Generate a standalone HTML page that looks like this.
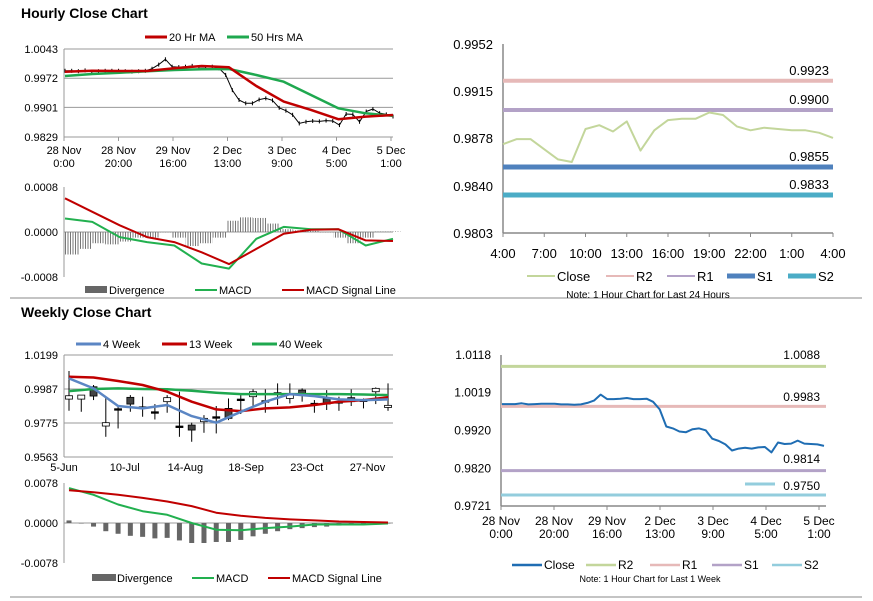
<!DOCTYPE html>
<html><head><meta charset="utf-8"><style>
html,body{margin:0;padding:0;background:#fff}
svg{display:block;font-family:"Liberation Sans",Arial,sans-serif}
</style></head><body>
<svg id="s" width="873" height="601" viewBox="0 0 873 601" xmlns="http://www.w3.org/2000/svg">
<defs><pattern id="hatch" width="2.5" height="4" patternUnits="userSpaceOnUse"><rect x="0" y="0" width="1" height="4" fill="#777"/></pattern></defs>
<line x1="10" y1="298" x2="862" y2="298" stroke="#888"/>
<line x1="10" y1="597" x2="862" y2="597" stroke="#888"/>
<text x="21" y="18" font-size="14" font-weight="bold">Hourly Close Chart</text>
<text x="21" y="317" font-size="14" font-weight="bold">Weekly Close Chart</text>
</svg>
<script>
// ---------- DATA ----------
const hourlyLabels1 = ["28 Nov","28 Nov","29 Nov","2 Dec","3 Dec","4 Dec","5 Dec"];
const hourlyLabels2 = ["0:00","20:00","16:00","13:00","9:00","5:00","1:00"];
const hourlyTicks = [1.0043,0.9972,0.9901,0.9829];
const hourlyClose = [0.9990,0.9990,0.9989,0.9991,0.9988,0.9989,0.9990,0.9990,0.9990,0.9989,0.9988,0.9989,0.9990,0.9995,1.0005,1.0018,1.0000,0.9999,1.0000,1.0002,0.9999,0.9999,1.0000,0.9996,0.9980,0.9943,0.9919,0.9911,0.9911,0.9920,0.9923,0.9918,0.9900,0.9893,0.9883,0.9862,0.9866,0.9868,0.9867,0.9869,0.9868,0.9858,0.9885,0.9884,0.9866,0.9891,0.9897,0.9887,0.9884,0.9879];
const ma20 = [0.99878,0.99903,0.99895,0.99895,0.99961,1.00017,0.99985,0.99531,0.99150,0.98948,0.98722,0.98785,0.98826];
const ma50 = [0.99774,0.99823,0.99854,0.99888,0.99920,0.99936,0.99944,0.99798,0.99635,0.99312,0.98989,0.98867,0.98802];
const hMacdTicks = [0.0008,0.0000,-0.0008];
const hMacd = [0.00024,0.00018,-0.00009,-0.00018,-0.00024,-0.00056,-0.00065,-0.00012,0.00009,0.00005,0.00005,-0.00024,-0.00012];
const hSignal = [0.00060,0.00036,0.00012,-0.00009,-0.00018,-0.00036,-0.00057,-0.00030,-0.00003,0.00004,0.00005,-0.00015,-0.00016];
const hDiv = [-0.0004,-0.0003,-0.0002,-0.00022,-0.00017,-0.0001,-0.0001,0,-0.0001,-0.00025,-0.0002,-0.0001,0.0002,0.00026,0.00025,0.00015,0.00005,0.00003,0.00002,0,-0.0001,-0.0002,-0.0001,0.00001,0.00001];

const dayLabels = ["4:00","7:00","10:00","13:00","16:00","19:00","22:00","1:00","4:00"];
const dayTicks = [0.9952,0.9915,0.9878,0.9840,0.9803];
const dayClose = [0.9873,0.9877,0.9877,0.9869,0.9861,0.9859,0.9885,0.9888,0.9883,0.9891,0.9868,0.9884,0.9892,0.9893,0.9893,0.9898,0.9896,0.9887,0.9884,0.9886,0.9885,0.9884,0.9884,0.9882,0.9878];
const dayLevels = [0.9923,0.9900,0.9855,0.9833];

const weekLabels = ["5-Jun","10-Jul","14-Aug","18-Sep","23-Oct","27-Nov"];
const weekTicks = [1.0199,0.9987,0.9775,0.9563];
const wOpen  = [0.9924,0.9924,1.0001,0.9756,0.9864,0.9935,0.9876,0.9845,0.9908,0.9756,0.9762,0.9783,0.9814,0.9866,0.9924,0.9939,0.9914,0.9964,0.9928,0.9980,0.9898,0.9926,0.9908,0.9933,0.9918,0.9970,0.9872];
const wClose = [0.9945,0.9949,0.9943,0.9777,0.9864,0.9893,0.9876,0.9845,0.9933,0.9756,0.9731,0.9804,0.9814,0.9804,0.9924,0.9970,0.9914,0.9964,0.9949,0.9955,0.9898,0.9893,0.9908,0.9908,0.9918,0.9991,0.9885];
const wHigh  = [1.0099,0.9949,1.0012,0.9939,0.9876,0.9949,0.9939,0.9893,0.9949,0.9970,0.9777,0.9824,0.9881,0.9928,0.9949,0.9985,0.9985,1.0022,1.0022,0.9991,0.9918,0.9980,0.9939,0.9985,0.9928,0.9997,1.0022];
const wLow   = [0.9851,0.9845,0.9918,0.9689,0.9741,0.9845,0.9814,0.9797,0.9839,0.9689,0.9658,0.9714,0.9710,0.9793,0.9831,0.9881,0.9839,0.9887,0.9897,0.9908,0.9839,0.9856,0.9851,0.9881,0.9866,0.9893,0.9851];
const wk4  = [1.0053,0.9991,0.9881,0.9866,0.9887,0.9818,0.9777,0.9845,0.9908,0.9955,0.9943,0.9922,0.9918,0.9922];
const wk13 = [1.0064,1.0059,1.0037,1.0012,0.9970,0.9908,0.9860,0.9849,0.9866,0.9872,0.9887,0.9908,0.9918,0.9935];
const wk40 = [0.9974,0.9987,0.9991,0.9987,0.9985,0.9976,0.9964,0.9955,0.9955,0.9955,0.9955,0.9955,0.9953,0.9949];
const wMacdTicks = [0.0078,0.0000,-0.0078];
const wDiv = [0.0005,-0.0001,-0.0007,-0.0016,-0.0021,-0.0025,-0.0027,-0.0030,-0.0029,-0.0034,-0.0039,-0.0039,-0.0037,-0.0037,-0.0033,-0.0026,-0.0021,-0.0016,-0.0012,-0.0010,-0.0008,-0.0007,-0.0005,-0.0004,-0.0003,-0.0002,-0.0001];
const wMacd = [0.0068,0.0055,0.0036,0.0023,0.0016,0.0000,-0.0013,-0.0014,-0.0010,-0.0007,-0.0003,-0.0003,-0.0003,-0.0001];
const wSignal = [0.0064,0.0060,0.0055,0.0049,0.0042,0.0033,0.0020,0.0014,0.0010,0.0007,0.0005,0.0003,0.0002,0.0001];

const weekClose = [0.9989,0.9989,0.9989,0.9991,0.9988,0.9989,0.9990,0.9990,0.9990,0.9988,0.9988,0.9987,0.9988,0.9992,0.9998,1.0014,1.0002,1.0002,1.0003,1.0005,1.0002,1.0002,1.0003,0.9995,0.9975,0.9930,0.9925,0.9917,0.9915,0.9923,0.9925,0.9920,0.9898,0.9892,0.9883,0.9867,0.9872,0.9874,0.9872,0.9875,0.9876,0.9862,0.9888,0.9884,0.9885,0.9893,0.9885,0.9884,0.9883,0.9879];
const weekTicksR = [1.0118,1.0019,0.9920,0.9820,0.9721];
const weekLevels = [1.0088,0.9983,0.9814,0.9750];

// ---------- HELPERS ----------
const S = document.getElementById('s');
const NS = 'http://www.w3.org/2000/svg';
function mk(tag, attrs, txt){const e=document.createElementNS(NS,tag);for(const k in attrs)e.setAttribute(k,attrs[k]);if(txt!==undefined)e.textContent=txt;S.appendChild(e);return e;}
function lin(d0,d1,r0,r1){return v=>r0+(v-d0)/(d1-d0)*(r1-r0);}
function poly(vals,xf,yf,color,w,name){
  const pts=vals.map((v,i)=>xf(i).toFixed(1)+','+yf(v).toFixed(1)).join(' ');
  const e=mk('polyline',{points:pts,fill:'none',stroke:color,'stroke-width':w,'stroke-linejoin':'round'});
  
  
  return e;
}
function txt(x,y,s,size,anchor,name,extra){
  const e=mk('text',Object.assign({x:x,y:y,'font-size':size,'text-anchor':anchor||'start',fill:'#000'},extra||{}),s);
  
  
  return e;
}
function hline(x1,x2,y,color,w,name){
  const e=mk('line',{x1:x1,x2:x2,y1:y,y2:y,stroke:color,'stroke-width':w});
  
  
  return e;
}
function vline(x,y1,y2,color,w,name){
  const e=mk('line',{x1:x,x2:x,y1:y1,y2:y2,stroke:color,'stroke-width':w});
  
  
  return e;
}
function legend(x,y,color,w,label,name,len){
  hline(x,x+(len||22),y,color,w,name+'-swatch');
  txt(x+(len||22)+2,y+4,label,11,'start',name);
}

// ---------- HOURLY ----------
(function(){
  const X0=64,X1=393;
  const y=lin(0.9829,1.0043,137,49);
  hourlyTicks.forEach(t=>{hline(X0,X1,y(t),'#999',1,'hourly-gridline');txt(58,y(t)+4,t.toFixed(4),11,'end','hourly-y-tick');});
  vline(X0,49,137,'#999',1,'hourly-y-axis');
  hourlyLabels1.forEach((l,i)=>{const x=X0+i*(X1-2-X0)/6;txt(x,154,l,11,'middle','hourly-x-tick');txt(x,167,hourlyLabels2[i],11,'middle','hourly-x-tick');vline(x,137,141,'#999',1,'hourly-x-tickmark');});
  const xc=lin(0,hourlyClose.length-1,X0+1,X1);
  hourlyClose.forEach((v,i)=>{vline(xc(i),y(v)-2,y(v)+2,'#000',1,'hourly-bar');});
  poly(hourlyClose,xc,y,'#000',1,'hourly-close-line');
  const xm=lin(0,ma50.length-1,X0+1,X1);
  poly(ma50,xm,y,'#1fa84f',2.5,'ma-50-line');
  poly(ma20,xm,y,'#c00000',2.5,'ma-20-line');
  legend(145,37,'#c00000',3,'20 Hr MA','legend-ma20',22);
  legend(227,37,'#1fa84f',3,'50 Hrs MA','legend-ma50',22);
  // MACD
  const ym=lin(-0.0008,0.0008,277,187);
  hMacdTicks.forEach(t=>txt(58,ym(t)+4,t.toFixed(4),11,'end','hourly-macd-y-tick'));
  vline(X0,187,277,'#999',1,'hourly-macd-y-axis');
  hline(X0,X1,ym(0),'#999',1,'hourly-macd-zero');
  const xd=lin(0,hDiv.length-1,X0+1,X1-6);
  hDiv.forEach((v,i)=>{const a=ym(Math.max(v,0)),b=ym(Math.min(v,0));
    const r=mk('rect',{x:xd(i),y:a,width:13.5,height:Math.max(b-a,0.5),fill:'url(#hatch)'});
    
    });
  poly(hMacd,xm,ym,'#22b04f',2,'hourly-macd-line');
  poly(hSignal,xm,ym,'#c00000',2,'hourly-signal-line');
  const r=mk('rect',{x:85,y:286,width:22,height:7,fill:'#666'});
  
  
  txt(109,294,'Divergence',11,'start','legend-divergence');
  legend(195,290,'#22b04f',2,'MACD','legend-macd',22);
  legend(282,290,'#c00000',2,'MACD Signal Line','legend-signal',22);
})();

// ---------- 24H ----------
(function(){
  const X0=503,X1=833;
  const y=lin(0.9803,0.9952,233,44);
  dayTicks.forEach(t=>txt(493,y(t)+5,t.toFixed(4),13,'end','day-y-tick'));
  vline(X0,44,233,'#888',1.5,'day-y-axis');
  hline(X0,X1,233,'#888',1.5,'day-x-axis');
  dayLabels.forEach((l,i)=>{const x=X0+i*(X1-X0)/8;vline(x,233,237,'#888',1,'day-x-tickmark');txt(x,258,l,13,'middle','day-x-tick');});
  const cols=['#e6b9b8','#b3a2c7','#4f81bd','#4bacc6'];
  const ws=[4,4,5,5];
  const names=['r2','r1','s1','s2'];
  dayLevels.forEach((v,i)=>{hline(X0,X1,y(v),cols[i],ws[i],'day-level-'+names[i]);txt(X1-4,y(v)-6,v.toFixed(4),13,'end','day-level-label-'+names[i]);});
  const xc=lin(0,dayClose.length-1,X0,X1);
  poly(dayClose,xc,y,'#c3d69b',2,'day-close-line');
  const lx=[527,606,667,727,788], ll=['Close','R2','R1','S1','S2'];
  const lc=['#c3d69b','#e6b9b8','#b3a2c7','#4f81bd','#4bacc6'];
  const lw=[2,2,2,5,5];
  ll.forEach((l,i)=>{hline(lx[i],lx[i]+28,276,lc[i],lw[i],'day-legend-'+l.toLowerCase()+'-swatch');txt(lx[i]+30,281,l,13,'start','day-legend-'+l.toLowerCase());});
  txt(648,298,'Note: 1 Hour Chart for Last 24 Hours',10,'middle','day-note');
})();

// ---------- WEEKLY ----------
(function(){
  const X0=64,X1=393;
  const y=lin(0.9563,1.0199,457,355);
  weekTicks.forEach(t=>{hline(X0,X1,y(t),'#999',1,'weekly-gridline');txt(58,y(t)+4,t.toFixed(4),11,'end','weekly-y-tick');});
  vline(X0,355,457,'#999',1,'weekly-y-axis');
  weekLabels.forEach((l,i)=>txt(X0+i*60.7,471,l,11,'middle','weekly-x-tick'));
  const xc=i=>69+i*12.27;
  wOpen.forEach((o,i)=>{
    const c=wClose[i];
    vline(xc(i),y(wHigh[i]),y(wLow[i]),'#000',1,'weekly-candle-wick');
    const top=y(Math.max(o,c)),bot=y(Math.min(o,c));
    const r=mk('rect',{x:xc(i)-3.5,y:top,width:7,height:Math.max(bot-top,1.5),fill:c>o?'#fff':(c<o?'#444':'#000'),stroke:'#000','stroke-width':0.8});
    
    
  });
  const xm=i=>xc(i*2);
  poly(wk40,xm,y,'#1fa84f',2.5,'week-40-line');
  poly(wk13,xm,y,'#c00000',2.5,'week-13-line');
  poly(wk4,xm,y,'#5b86c4',2.5,'week-4-line');
  legend(76,344,'#5b86c4',3,'4 Week','legend-4week',25);
  legend(162,344,'#c00000',3,'13 Week','legend-13week',25);
  legend(252,344,'#1fa84f',3,'40 Week','legend-40week',25);
  const ym=lin(-0.0078,0.0078,563,483);
  wMacdTicks.forEach(t=>txt(58,ym(t)+4,t.toFixed(4),11,'end','weekly-macd-y-tick'));
  vline(X0,483,563,'#999',1,'weekly-macd-y-axis');
  hline(X0,X1,ym(0),'#999',1,'weekly-macd-zero');
  wDiv.forEach((v,i)=>{const a=ym(Math.max(v,0)),b=ym(Math.min(v,0));
    const r=mk('rect',{x:xc(i)-2.5,y:a,width:5,height:Math.max(b-a,0.5),fill:'#666'});
    
    });
  poly(wMacd,xm,ym,'#22b04f',2,'weekly-macd-line');
  poly(wSignal,xm,ym,'#c00000',2,'weekly-signal-line');
  const r=mk('rect',{x:92,y:574,width:24,height:7,fill:'#666'});
  
  
  txt(117,582,'Divergence',11,'start','weekly-legend-divergence');
  legend(192,578,'#22b04f',2,'MACD','weekly-legend-macd',22);
  legend(268,578,'#c00000',2,'MACD Signal Line','weekly-legend-signal',22);
})();

// ---------- 1 WEEK HOURLY ----------
(function(){
  const X0=501,X1=826;
  const y=lin(0.9721,1.0118,506,355);
  weekTicksR.forEach(t=>txt(491,y(t)+4,t.toFixed(4),12,'end','week-hour-y-tick'));
  vline(X0,355,506,'#888',1.5,'week-hour-y-axis');
  hline(X0,X1,506,'#888',1.5,'week-hour-x-axis');
  hourlyLabels1.forEach((l,i)=>{const x=X0+i*53;vline(x,506,510,'#888',1,'week-hour-x-tickmark');txt(x,525,l,12,'middle','week-hour-x-tick');txt(x,538,hourlyLabels2[i],12,'middle','week-hour-x-tick');});
  const cols=['#c3d69b','#e6b9b8','#b3a2c7','#93cddd'];
  const names=['r2','r1','s1','s2'];
  const ly=[359,401,463,490];
  weekLevels.forEach((v,i)=>{hline(X0,X1,y(v),cols[i],3,'week-level-'+names[i]);txt(820,ly[i],v.toFixed(4),12,'end','week-level-label-'+names[i]);});
  hline(745,775,484,'#93cddd',3,'week-level-s2-marker');
  const xc=lin(0,weekClose.length-1,X0+1,X1-2);
  poly(weekClose,xc,y,'#1f6db3',2,'week-close-line');
  const lx=[512,586,650,712,772], ll=['Close','R2','R1','S1','S2'];
  const lc=['#1f6db3','#c3d69b','#e6b9b8','#b3a2c7','#93cddd'];
  ll.forEach((l,i)=>{hline(lx[i],lx[i]+30,565,lc[i],2.5,'week-legend-'+l.toLowerCase()+'-swatch');txt(lx[i]+32,569,l,12,'start','week-legend-'+l.toLowerCase());});
  txt(650,582,'Note: 1 Hour Chart for Last 1 Week',9,'middle','week-note');
})();
</script>
</body></html>
